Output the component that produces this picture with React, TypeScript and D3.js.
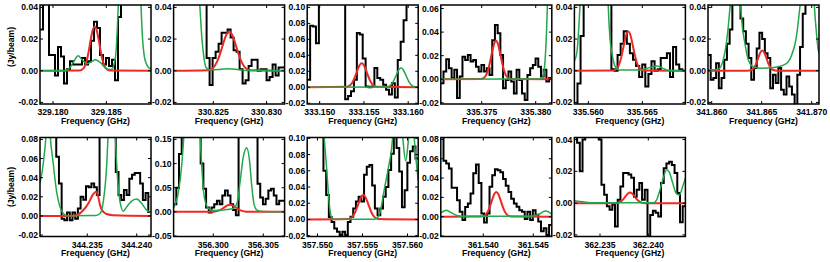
import React from "react";
import * as d3 from "d3";

// frequency window of each panel (GHz)
const freqRanges: [number, number][] = [
  [329.17878, 329.18919],
  [330.82128, 330.83169],
  [333.14859, 333.16113],
  [335.37121, 335.38149],
  [335.55871, 335.56899],
  [341.85963, 341.87073],
  [344.23021, 344.24145],
  [356.29603, 356.30713],
  [357.54886, 357.56119],
  [361.53575, 361.54685],
  [362.23235, 362.24384],
];

// flux window (Jy/beam)
const fluxRanges: [number, number][] = [
  [-0.021, 0.0415],
  [-0.021, 0.0415],
  [-0.021, 0.103],
  [-0.021, 0.063],
  [-0.021, 0.0415],
  [-0.021, 0.0415],
  [-0.0215, 0.082],
  [-0.051, 0.154],
  [-0.021, 0.101],
  [-0.0205, 0.082],
  [-0.021, 0.0413],
];

const freqTicks: number[][] = [
  [329.18, 329.185],
  [330.825, 330.83],
  [333.15, 333.155, 333.16],
  [335.375, 335.38],
  [335.56, 335.565],
  [341.86, 341.865, 341.87],
  [344.235, 344.24],
  [356.3, 356.305],
  [357.55, 357.555, 357.56],
  [361.54, 361.545],
  [362.235, 362.24],
];

const fluxTicks: number[][] = [
  [-0.02, 0, 0.02, 0.04],
  [-0.02, 0, 0.02, 0.04],
  [-0.02, 0, 0.02, 0.04, 0.06, 0.08, 0.1],
  [-0.02, 0, 0.02, 0.04, 0.06],
  [-0.02, 0, 0.02, 0.04],
  [-0.02, 0, 0.02, 0.04],
  [-0.02, 0, 0.02, 0.04, 0.06, 0.08],
  [-0.05, 0, 0.05, 0.1, 0.15],
  [-0.02, 0, 0.02, 0.04, 0.06, 0.08, 0.1],
  [-0.02, 0, 0.02, 0.04, 0.06, 0.08],
  [-0.02, 0, 0.02, 0.04],
];

// observed spectra, one value per channel (channels span the window)
const observed: number[][] = [
  [0.026, 0.06, 0.06, 0.01, 0.01, -0.003, 0.015, 0.009, -0.008, 0.001, 0.006, 0.004, 0.004, 0.004, 0.008, 0.004, 0.006, 0.019, 0.031, 0.027, 0.01, 0.004, 0.008, 0.003, 0.007, -0.006, 0.034, 0.06, 0.06, 0.06, 0.06, 0.06, 0.06, 0.06, 0.06, 0.06, 0.06],
  [0.06, 0.06, 0.06, 0.06, 0.06, 0.06, 0.06, 0.06, 0.06, 0.06, 0.06, 0.008, -0.009, 0.008, 0.012, 0.017, 0.024, 0.024, 0.026, 0.021, 0.013, 0.012, 0.001, -0.008, -0.006, 0.003, 0.007, 0.007, 0.0, 0.001, 0.001, -0.006, -0.004, 0.004, -0.003, 0.002, 0.002],
  [0.0095, 0.077, 0.076, 0.055, 0.15, 0.15, 0.15, 0.15, 0.15, 0.15, 0.15, 0.15, 0.15, -0.015, -0.011, -0.005, 0.0095, 0.068, 0.066, 0.036, 0.001, 0.0, 0.001, 0.024, 0.0116, 0.0095, 0.003, -0.003, -0.009, 0.005, -0.013, 0.034, 0.057, 0.084, 0.15, 0.15, 0.15, 0.15],
  [-0.0034, 0.0065, 0.017, 0.0093, 0.0008, 0.008, -0.016, 0.0023, 0.019, 0.0163, 0.0206, 0.015, 0.0163, 0.0107, 0.0065, 0.012, 0.0065, 0.0093, 0.0037, 0.033, 0.046, 0.039, 0.0206, -0.0076, -0.0006, 0.0065, -0.002, -0.012, 0.008, -0.0006, -0.012, -0.0175, 0.0037, 0.0093, 0.012, 0.0177, 0.0107, 0.0023, 0.008, -0.002, 0.001],
  [-0.025, -0.008, 0.022, 0.06, 0.06, 0.06, 0.06, 0.06, 0.06, 0.06, 0.06, 0.06, 0.001, 0.0, 0.01, 0.017, 0.025, 0.017, 0.011, 0.007, 0.003, -0.004, 0.004, -0.01, -0.002, 0.006, 0.0, 0.001, 0.008, 0.008, 0.011, -0.004, 0.015, 0.004, 0.001, 0.0],
  [0.01, -0.0057, -0.0046, 0.0048, -0.011, -0.0046, 0.007, 0.017, 0.026, 0.06, 0.06, 0.06, 0.033, 0.025, 0.017, 0.008, -0.0057, 0.0017, 0.014, 0.024, 0.02, 0.011, 0.008, -0.011, -0.0025, -0.0078, 0.0017, -0.012, -0.015, -0.0036, -0.01, -0.015, -0.025, -0.0025, 0.015, 0.036, 0.06, 0.06, 0.06, 0.06, 0.06],
  [0.12, 0.12, 0.12, 0.12, 0.12, 0.12, 0.062, 0.034, -0.003, -0.0046, 0.0035, -0.0046, 0.0035, -0.003, 0.0078, 0.02, 0.017, 0.031, 0.03, 0.034, 0.03, 0.022, 0.12, 0.12, 0.12, 0.12, 0.12, 0.12, 0.046, 0.022, 0.0166, 0.027, 0.022, 0.039, 0.043, 0.045, 0.045, 0.034, 0.0166, 0.024, 0.004],
  [0.016, 0.05, 0.12, 0.25, 0.25, 0.25, 0.25, 0.25, 0.25, 0.25, 0.1, 0.048, 0.009, -0.0014, 0.009, 0.016, 0.023, 0.016, 0.034, 0.044, 0.034, 0.016, 0.004, -0.007, 0.25, 0.25, 0.25, 0.25, 0.25, 0.25, 0.25, 0.058, 0.03, 0.016, 0.027, 0.044, 0.048, 0.034, 0.016, 0.023, 0.023],
  [0.2, 0.2, 0.2, 0.2, 0.2, 0.2, 0.06, 0.03, 0.003, -0.003, -0.011, -0.015, -0.019, -0.015, -0.019, -0.003, 0.0033, 0.0136, 0.022, 0.028, 0.022, 0.055, 0.065, 0.067, 0.042, 0.0136, 0.0053, 0.0136, 0.028, 0.04, 0.061, 0.081, 0.12, 0.088, 0.059, 0.015, 0.036, 0.07, 0.084, 0.09, 0.075],
  [0.1, 0.058, 0.055, 0.05, 0.03, 0.03, 0.017, 0.005, -0.0034, 0.01, 0.0136, 0.024, 0.045, 0.054, 0.035, 0.0034, -0.006, 0.0034, 0.031, 0.043, 0.049, 0.048, 0.046, 0.039, 0.032, 0.0255, 0.0187, 0.0136, 0.0102, 0.0068, 0.005, -0.0024, 0.005, -0.0034, 0.0068, 0.002, -0.005, -0.015, -0.012, -0.019, -0.0085],
  [0.06, 0.038, 0.02, 0.04, 0.06, 0.06, 0.06, 0.06, 0.06, 0.04, 0.0116, 0.0053, -0.002, -0.0042, -0.001, -0.0147, 0.0021, 0.0105, 0.019, 0.019, 0.018, 0.016, 0.004, 0.0084, 0.0126, 0.0021, 0.0084, -0.022, -0.0074, -0.0048, -0.006, -0.0084, 0.0126, 0.022, 0.025, 0.026, 0.024, 0.019, 0.0063, -0.012, -0.002],
];

// fitted line of the target species [GHz, Jy/beam]
const fitCurves: [number, number][][] = [
  [[329.17878, 0], [329.1825, 0.0002], [329.18288, 0.0017], [329.18316, 0.0064], [329.18335, 0.0123], [329.18353, 0.0194], [329.18372, 0.0255], [329.18391, 0.028], [329.1841, 0.0255], [329.18429, 0.0194], [329.18447, 0.0123], [329.18466, 0.0064], [329.18494, 0.0017], [329.18532, 0.0002], [329.18919, 0]],
  [[330.82128, 0], [330.82453, 0.0003], [330.825, 0.0019], [330.82537, 0.0059], [330.82566, 0.0111], [330.82594, 0.0173], [330.82622, 0.0226], [330.8265, 0.0247], [330.82678, 0.0226], [330.82706, 0.0173], [330.82734, 0.0111], [330.82763, 0.0059], [330.828, 0.0019], [330.82847, 0.0003], [330.83169, 0]],
  [[333.14859, 0], [333.15305, 0.0005], [333.15351, 0.0032], [333.15385, 0.0092], [333.15407, 0.0154], [333.1543, 0.0223], [333.15452, 0.0279], [333.15475, 0.03], [333.15498, 0.0279], [333.1552, 0.0223], [333.15543, 0.0154], [333.15565, 0.0092], [333.15599, 0.0032], [333.15645, 0.0005], [333.16113, 0]],
  [[335.37121, 0], [335.37493, 0.0002], [335.3753, 0.002], [335.37558, 0.0075], [335.37576, 0.0143], [335.37595, 0.0227], [335.37614, 0.0298], [335.37632, 0.0327], [335.37651, 0.0298], [335.37669, 0.0227], [335.37688, 0.0143], [335.37706, 0.0075], [335.37734, 0.002], [335.37771, 0.0002], [335.38149, 0]],
  [[335.55871, 0], [335.56231, 0.0002], [335.56268, 0.0018], [335.56296, 0.0062], [335.56314, 0.0113], [335.56333, 0.0175], [335.56352, 0.0227], [335.5637, 0.0247], [335.56389, 0.0227], [335.56407, 0.0175], [335.56426, 0.0113], [335.56444, 0.0062], [335.56472, 0.0018], [335.56509, 0.0002], [335.56899, 0]],
  [[341.85963, 0], [341.86356, 0], [341.86396, 0.00045], [341.86426, 0.0022], [341.86446, 0.0047], [341.86466, 0.0082], [341.86486, 0.0115], [341.86506, 0.0128], [341.86526, 0.0115], [341.86546, 0.0082], [341.86566, 0.0047], [341.86586, 0.0022], [341.86616, 0.00045], [341.86656, 0], [341.87073, 0]],
  [[344.23021, 0], [344.23358, 0], [344.23459, 0.006], [344.2351, 0.013], [344.23555, 0.022], [344.23588, 0.0254], [344.23611, 0.02], [344.23629, 0.0113], [344.23656, 0.005], [344.23697, 0.002], [344.23763, 0.0007], [344.24145, 0]],
  [[356.29603, 0], [356.30007, 0.0004], [356.30047, 0.002], [356.30077, 0.0048], [356.30107, 0.0089], [356.30137, 0.013], [356.30167, 0.0147], [356.30197, 0.013], [356.30227, 0.0089], [356.30257, 0.0048], [356.30287, 0.002], [356.30327, 0.0004], [356.30713, 0]],
  [[357.54886, 0], [357.55342, 0.0005], [357.55387, 0.0032], [357.5542, 0.0092], [357.55442, 0.0154], [357.55465, 0.0223], [357.55487, 0.0279], [357.55509, 0.03], [357.55531, 0.0279], [357.55553, 0.0223], [357.55576, 0.0154], [357.55598, 0.0092], [357.55631, 0.0032], [357.55676, 0.0005], [357.56119, 0]],
  [[361.53575, 0], [361.5398, 0.0002], [361.5402, 0.0018], [361.5405, 0.0063], [361.5407, 0.0117], [361.5409, 0.018], [361.5411, 0.0234], [361.5413, 0.0255], [361.5415, 0.0234], [361.5417, 0.018], [361.5419, 0.0117], [361.5421, 0.0063], [361.5424, 0.0018], [361.5428, 0.0002], [361.54685, 0]],
  [[362.23235, 0], [362.23656, 0], [362.23697, 0.0004], [362.23728, 0.0016], [362.23749, 0.003], [362.2377, 0.0047], [362.2379, 0.0061], [362.23811, 0.0067], [362.23832, 0.0061], [362.23852, 0.0047], [362.23873, 0.003], [362.23894, 0.0016], [362.23925, 0.0004], [362.23966, 0], [362.24384, 0]],
];

// model of the other species [GHz, Jy/beam]
const otherCurves: [number, number][][] = [
  [[329.17878, 0], [329.18113, 0], [329.18159, 0.002], [329.18197, 0.006], [329.18235, 0.0094], [329.18272, 0.007], [329.18319, 0.0044], [329.18356, 0.0055], [329.18399, 0.0069], [329.1845, 0.0048], [329.18497, 0.0015], [329.18535, 0.0008], [329.18553, 0.001], [329.18572, 0.004], [329.18591, 0.012], [329.18605, 0.03], [329.18616, 0.05], [329.18629, 0.1], [329.18722, 0.3], [329.18807, 0.08], [329.18826, 0.04], [329.1884, 0.02], [329.18854, 0.01], [329.18872, 0.005], [329.18896, 0.002], [329.18919, 0.001]],
  [[330.82128, 0.4], [330.82281, 0.15], [330.82356, 0.06], [330.82375, 0.04], [330.82394, 0.02], [330.82413, 0.008], [330.82432, 0.002], [330.82469, 0.0005], [330.82563, 0.0008], [330.82647, 0.0013], [330.82732, 0.0008], [330.82807, 0.0002], [330.83169, 0]],
  [[333.14859, 0], [333.15749, 0.0003], [333.15795, 0.0021], [333.15829, 0.0067], [333.15851, 0.0117], [333.15874, 0.0174], [333.15896, 0.0222], [333.15919, 0.024], [333.15942, 0.0222], [333.15964, 0.0174], [333.15987, 0.0117], [333.16009, 0.0067], [333.16043, 0.0021], [333.16089, 0.0003], [333.16113, 0]],
  [[335.37121, 0], [335.38049, 0.0003], [335.38068, 0.003], [335.38086, 0.015], [335.381, 0.04], [335.38109, 0.065], [335.38123, 0.1], [335.38149, 0.2]],
  [[335.55871, 0.006], [335.55895, 0.012], [335.55914, 0.03], [335.55928, 0.05], [335.55951, 0.12], [335.56062, 0.4], [335.56164, 0.1], [335.56185, 0.04], [335.56201, 0.02], [335.56219, 0.011], [335.56247, 0.003], [335.56284, 0.0005], [335.56479, 0.0005], [335.56571, 0.002], [335.56636, 0.003], [335.56692, 0.0015], [335.56738, 0.0002], [335.56899, 0]],
  [[341.85963, 0.0005], [341.86066, 0.001], [341.86116, 0.007], [341.8615, 0.019], [341.86176, 0.035], [341.86193, 0.05], [341.8621, 0.09], [341.86238, 0.2], [341.86266, 0.09], [341.86283, 0.05], [341.863, 0.032], [341.86333, 0.017], [341.86366, 0.007], [341.86416, 0.0025], [341.865, 0.0015], [341.86616, 0.002], [341.86733, 0.004], [341.868, 0.01], [341.86843, 0.02], [341.86873, 0.035], [341.86893, 0.05], [341.8691, 0.08], [341.86948, 0.2], [341.87, 0.08], [341.87023, 0.045], [341.8705, 0.022], [341.87066, 0.013], [341.87073, 0.011]],
  [[344.23021, 0.034], [344.2306, 0.06], [344.23089, 0.1], [344.23102, 0.15], [344.23115, 0.1], [344.23156, 0.054], [344.2319, 0.025], [344.23223, 0.0095], [344.23257, 0.0025], [344.23291, 0.0003], [344.23588, 0.0005], [344.23629, 0.0025], [344.23662, 0.015], [344.23697, 0.054], [344.23713, 0.09], [344.2375, 0.2], [344.23781, 0.09], [344.23804, 0.043], [344.23831, 0.015], [344.23865, 0.005], [344.23899, 0.0095], [344.23943, 0.015], [344.24001, 0.0176], [344.24051, 0.013], [344.24102, 0.006], [344.24145, 0.0035]],
  [[356.29603, 0.009], [356.2965, 0.04], [356.29684, 0.096], [356.29707, 0.16], [356.29787, 0.35], [356.29867, 0.16], [356.29884, 0.096], [356.299, 0.048], [356.29927, 0.016], [356.2996, 0.0056], [356.3, 0.003], [356.301, 0.004], [356.302, 0.007], [356.30240, 0.02], [356.30267, 0.061], [356.303, 0.114], [356.30334, 0.133], [356.3036, 0.11], [356.30384, 0.055], [356.30407, 0.016], [356.30434, 0.004], [356.30467, 0.0015], [356.30713, 0]],
  [[357.54886, 0.3], [357.5505, 0.15], [357.55076, 0.1], [357.55102, 0.063], [357.5512, 0.034], [357.55139, 0.0115], [357.55158, 0.002], [357.55176, 0.0004], [357.55639, 0.0004], [357.55676, 0.0033], [357.55706, 0.0136], [357.55731, 0.03], [357.55758, 0.046], [357.55787, 0.063], [357.55824, 0.088], [357.55842, 0.11], [357.55894, 0.15], [357.55939, 0.11], [357.5598, 0.072], [357.56028, 0.11], [357.56064, 0.11], [357.56089, 0.08], [357.56119, 0.048]],
  [[361.53575, 0.004], [361.5363, 0.0068], [361.53684, 0.004], [361.53734, 0.0012], [361.53784, 0.0004], [361.54467, 0.0005], [361.54547, 0.002], [361.5462, 0.0058], [361.54662, 0.0045], [361.54685, 0.0025]],
  [[362.23235, 0.0015], [362.23327, 0.0008], [362.23431, 0.0002], [362.24052, 0.0002], [362.24087, 0.0021], [362.24121, 0.0084], [362.24155, 0.0158], [362.24191, 0.021], [362.24217, 0.0195], [362.24253, 0.0126], [362.24287, 0.0063], [362.24321, 0.005], [362.24356, 0.0105], [362.24384, 0.0158]],
];

const W = 830;
const H = 262;
const panelW = 111;
const panelH = 99;
const colStep = 133.6;
const left0 = 40;
const rowTops = [5, 137.5];
const font = "'Liberation Sans', Arial, Helvetica, sans-serif";
const fs = 8.6;

const fmtX = d3.format(".3f");
const fmtY = (v: number) => d3.format(".2f")(v).replace("\u2212", "-");

function Panel({ i }: { i: number }) {
  const col = i % 6;
  const row = Math.floor(i / 6);
  const x0 = left0 + col * colStep;
  const y0 = rowTops[row];
  const x = d3.scaleLinear().domain(freqRanges[i]).range([x0, x0 + panelW]);
  const y = d3.scaleLinear().domain(fluxRanges[i]).range([y0 + panelH, y0]);

  const vals = observed[i];
  const chan = d3.scaleLinear().domain([0, vals.length]).range(freqRanges[i]);
  const stepPts: [number, number][] = vals.map((v, k) => [chan(k), v] as [number, number]);
  stepPts.push([chan(vals.length), vals[vals.length - 1]]);

  const step = d3
    .line<[number, number]>()
    .x((d) => x(d[0]))
    .y((d) => y(d[1]))
    .curve(d3.curveStepAfter);
  const smooth = d3
    .line<[number, number]>()
    .x((d) => x(d[0]))
    .y((d) => y(d[1]))
    .curve(d3.curveMonotoneX);

  const clipId = "clip" + i;
  const bottom = y0 + panelH;

  return (
    <g>
      <defs>
        <clipPath id={clipId}>
          <rect x={x0} y={y0} width={panelW} height={panelH} />
        </clipPath>
      </defs>
      <g clipPath={`url(#${clipId})`} fill="none">
        <path d={step(stepPts) || ""} stroke="#000" strokeWidth={2} strokeLinejoin="miter" />
        <path d={smooth(fitCurves[i]) || ""} stroke="#ec2a24" strokeWidth={2} />
        <path d={smooth(otherCurves[i]) || ""} stroke="#20a84a" strokeWidth={1.5} />
      </g>
      {fluxTicks[i].map((t) => (
        <g key={"y" + t}>
          <line x1={x0} x2={x0 + 3} y1={y(t)} y2={y(t)} stroke="#000" strokeWidth={1} />
          <line x1={x0 + panelW - 3} x2={x0 + panelW} y1={y(t)} y2={y(t)} stroke="#000" strokeWidth={1} />
          <text
            x={x0 - 2}
            y={y(t)}
            dy="0.35em"
            textAnchor="end"
            fontFamily={font}
            fontWeight="bold"
            fontSize={fs}
          >
            {fmtY(t)}
          </text>
        </g>
      ))}
      {freqTicks[i].map((t) => (
        <g key={"x" + t}>
          <line x1={x(t)} x2={x(t)} y1={bottom} y2={bottom - 3} stroke="#000" strokeWidth={1} />
          <line x1={x(t)} x2={x(t)} y1={y0} y2={y0 + 3} stroke="#000" strokeWidth={1} />
          <text
            x={x(t)}
            y={bottom + 11}
            textAnchor="middle"
            fontFamily={font}
            fontWeight="bold"
            fontSize={fs}
          >
            {fmtX(t)}
          </text>
        </g>
      ))}
      <rect x={x0} y={y0} width={panelW} height={panelH} fill="none" stroke="#000" strokeWidth={1.5} />
      <text
        x={x0 + panelW / 2}
        y={bottom + 19.6}
        textAnchor="middle"
        fontFamily={font}
        fontWeight="bold"
        fontSize={fs}
      >
        Frequency (GHz)
      </text>
      {col === 0 && (
        <text
          transform={`translate(13.5,${row === 0 ? 47 : 187}) rotate(-90)`}
          textAnchor="middle"
          fontFamily={font}
          fontWeight="bold"
          fontSize={fs}
        >
          (Jy/beam)
        </text>
      )}
    </g>
  );
}

export default function App() {
  return (
    <div style={{ position: "absolute", left: 0, top: 0 }}>
      <svg width={W} height={H} style={{ display: "block", background: "#fff" }}>
        {freqRanges.map((_, i) => (
          <Panel key={i} i={i} />
        ))}
      </svg>
    </div>
  );
}
